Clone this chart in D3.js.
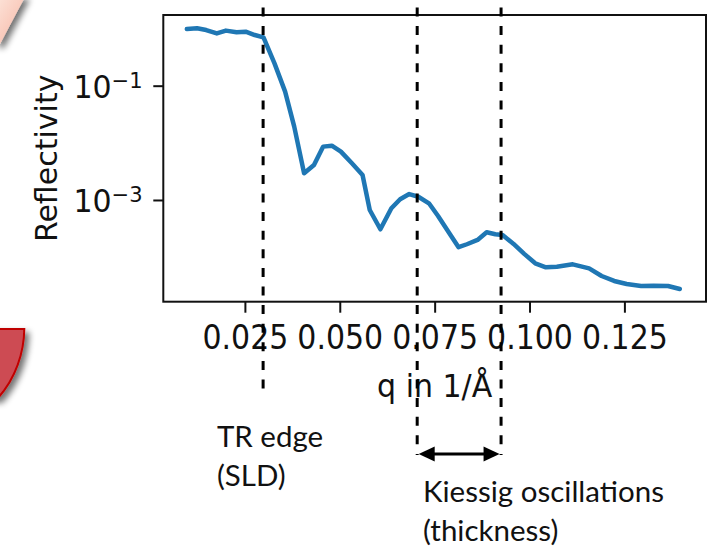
<!DOCTYPE html>
<html>
<head>
<meta charset="utf-8">
<script src="https://cdn.jsdelivr.net/npm/d3@7"></script>
<style>
  body { margin: 0; background: #fff; }
  svg { display: block; }
</style>
</head>
<body>
<div id="my_dataviz"></div>
<script>
// reflectivity curve
var q = [0.0097, 0.0124, 0.0148, 0.0176, 0.0200, 0.0228, 0.0252, 0.0276, 0.0299, 0.0328,
         0.0356, 0.0380, 0.0406, 0.0432, 0.0456, 0.0479, 0.0503, 0.0532, 0.0560, 0.0579,
         0.0607, 0.0636, 0.0659, 0.0683, 0.0707, 0.0735, 0.0759, 0.0787, 0.0813, 0.0835,
         0.0863, 0.0887, 0.0910, 0.0929, 0.0958, 0.0986, 0.1015, 0.1043, 0.1072, 0.1114,
         0.1157, 0.1190, 0.1223, 0.1256, 0.1294, 0.1327, 0.1365, 0.1396]
var reflectivity = [0.98, 1.01, 0.94, 0.82, 0.92, 0.86, 0.88, 0.77, 0.70, 0.246,
         0.0787, 0.0192, 0.00293, 0.00410, 0.00858, 0.00893, 0.00702, 0.00438, 0.00274, 0.000668,
         0.000307, 0.000715, 0.00103, 0.00127, 0.00114, 0.000875, 0.000525, 0.000272, 0.000149, 0.000168,
         0.000200, 0.000272, 0.000251, 0.000244, 0.000170, 0.000114, 0.0000780, 0.0000664, 0.0000681, 0.0000748,
         0.0000637, 0.0000468, 0.0000383, 0.0000339, 0.0000313, 0.0000317, 0.0000313, 0.0000277]

var xTicks = [0.025, 0.050, 0.075, 0.100, 0.125]
var yTicks = [1e-1, 1e-3]

// annotation lines (q positions) and their captions
var edgeQ = [0.0298]
var kiessigQ = [0.0704, 0.0925]
var edgeLabel = ["TR edge", "(SLD)"]
var kiessigLabel = ["Kiessig oscillations", "(thickness)"]

var width = 717
    height = 547
var margin = {top: 15, right: 11, bottom: 245.3, left: 163.3}

var svg = d3.select("#my_dataviz")
  .append("svg")
    .attr("width", width)
    .attr("height", height)

var defs = svg.append("defs")
var shadow = defs.append("filter").attr("id", "shadow")
  .attr("x", "-50%").attr("y", "-50%").attr("width", "200%").attr("height", "200%")
shadow.append("feGaussianBlur").attr("in", "SourceAlpha").attr("stdDeviation", 3)
shadow.append("feOffset").attr("dx", 4).attr("dy", 4).attr("result", "b")
shadow.append("feComponentTransfer").append("feFuncA").attr("type", "linear").attr("slope", 0.55)
var merge = shadow.append("feMerge")
merge.append("feMergeNode")
merge.append("feMergeNode").attr("in", "SourceGraphic")

var peach = defs.append("linearGradient").attr("id", "peach")
  .attr("x1", 0).attr("y1", 0).attr("x2", 1).attr("y2", 1)
peach.append("stop").attr("offset", "0%").attr("stop-color", "#fde6dc")
peach.append("stop").attr("offset", "100%").attr("stop-color", "#f6b4a2")

// bits of neighbouring slide shapes, cut off at the left edge
svg.append("path")
  .attr("d", "M-5,-5 L26,-5 L0,44 L-5,44 Z")
  .attr("fill", "url(#peach)")
  .attr("filter", "url(#shadow)")
svg.append("path")
  .attr("d", "M-10,329 L24.3,329 C24,352 16,378 -2,398 L-10,398 Z")
  .attr("fill", "#cd4b52")
  .attr("stroke", "#c00000")
  .attr("stroke-width", 2)
  .attr("filter", "url(#shadow)")

var x = d3.scaleLinear()
  .domain([0.0035, 0.1465])
  .range([margin.left, width - margin.right])

var y = d3.scaleLog()
  .domain([Math.pow(10, -4.78), Math.pow(10, 0.237)])
  .range([height - margin.bottom, margin.top])

var font = "'DejaVu Sans', sans-serif"

// curve
var line = d3.line()
  .x(function(d, i) { return x(q[i]) })
  .y(function(d) { return y(d) })

svg.append("path")
  .datum(reflectivity)
  .attr("d", line)
  .attr("fill", "none")
  .attr("stroke", "#1f77b4")
  .attr("stroke-width", 4.5)
  .attr("stroke-linejoin", "round")
  .attr("stroke-linecap", "round")

// axes (labels slightly taller than wide, like the stretched original)
var xAxis = svg.append("g")
  .attr("transform", "translate(0," + (height - margin.bottom) + ")")
  .call(d3.axisBottom(x).tickValues(xTicks).tickFormat(d3.format(".3f")).tickSize(11).tickSizeOuter(0))
xAxis.select(".domain").remove()
xAxis.selectAll(".tick line").attr("stroke", "#111").attr("stroke-width", 2)
xAxis.selectAll(".tick text")
  .attr("y", 0).attr("dy", 0)
  .attr("transform", "translate(0,47.5) scale(1,1.1)")
  .attr("fill", "#111")
  .style("font-family", font).style("font-size", "30px")

var yAxis = svg.append("g")
  .attr("transform", "translate(" + margin.left + ",0)")
  .call(d3.axisLeft(y).tickValues(yTicks).tickSize(10).tickSizeOuter(0))
yAxis.select(".domain").remove()
yAxis.selectAll(".tick line").attr("stroke", "#111").attr("stroke-width", 2)
yAxis.selectAll(".tick text")
  .attr("x", 0).attr("dy", 0)
  .attr("transform", "translate(-20.8,11.5) scale(1,1.05)")
  .attr("fill", "#111")
  .style("font-family", font).style("font-size", "30px")
  .text("")
  .each(function(d) {
    var t = d3.select(this)
    t.append("tspan").text("10")
    t.append("tspan").attr("dy", -9.5).style("font-size", "21px")
      .text("\u2212" + Math.round(-Math.log10(d)))
  })

// frame
svg.append("rect")
  .attr("x", margin.left)
  .attr("y", margin.top)
  .attr("width", width - margin.right - margin.left)
  .attr("height", height - margin.bottom - margin.top)
  .attr("fill", "none")
  .attr("stroke", "#111")
  .attr("stroke-width", 2)

// axis titles
svg.append("text")
  .attr("transform", "translate(" + ((margin.left + width - margin.right) / 2) + ",396.5) scale(1,1.08)")
  .attr("text-anchor", "middle")
  .attr("fill", "#111")
  .style("font-family", font).style("font-size", "30px")
  .text("q in 1/\u00c5")

svg.append("text")
  .attr("transform", "translate(57," + ((margin.top + height - margin.bottom) / 2) + ") rotate(-90)")
  .attr("text-anchor", "middle")
  .attr("fill", "#111")
  .style("font-family", font).style("font-size", "30px")
  .text("Reflectivity")

// dashed annotation lines
var dash = "9,9.6"
svg.selectAll(".edge")
  .data(edgeQ)
  .enter().append("line")
    .attr("x1", function(d) { return x(d) }).attr("x2", function(d) { return x(d) })
    .attr("y1", 7.5).attr("y2", 397)
    .attr("stroke", "#000").attr("stroke-width", 3)
    .attr("stroke-dasharray", dash)

svg.selectAll(".kiessig")
  .data(kiessigQ)
  .enter().append("line")
    .attr("x1", function(d) { return x(d) }).attr("x2", function(d) { return x(d) })
    .attr("y1", 7.5).attr("y2", 455)
    .attr("stroke", "#000").attr("stroke-width", 3)
    .attr("stroke-dasharray", dash)

// double arrow between the Kiessig lines
var ay = 454
var ax0 = x(kiessigQ[0]) + 1.5
var ax1 = x(kiessigQ[1]) - 1.5
svg.append("line")
  .attr("x1", ax0 + 10).attr("x2", ax1 - 10)
  .attr("y1", ay).attr("y2", ay)
  .attr("stroke", "#000").attr("stroke-width", 3)
svg.append("path")
  .attr("d", "M" + ax0 + "," + ay + " L" + (ax0 + 16) + "," + (ay - 7.5) + " L" + (ax0 + 16) + "," + (ay + 7.5) + " Z")
  .attr("fill", "#000")
svg.append("path")
  .attr("d", "M" + ax1 + "," + ay + " L" + (ax1 - 16) + "," + (ay - 7.5) + " L" + (ax1 - 16) + "," + (ay + 7.5) + " Z")
  .attr("fill", "#000")

// captions
var capFont = "Lato, 'Open Sans', sans-serif"
svg.selectAll(".edgecap")
  .data(edgeLabel)
  .enter().append("text")
    .attr("x", 216.9)
    .attr("y", function(d, i) { return 447.3 + i * 39 })
    .attr("fill", "#111")
    .style("font-family", capFont).style("font-size", "29.5px")
    .text(function(d) { return d })

svg.selectAll(".kiessigcap")
  .data(kiessigLabel)
  .enter().append("text")
    .attr("x", 423)
    .attr("y", function(d, i) { return 501.7 + i * 39 })
    .attr("fill", "#111")
    .style("font-family", capFont).style("font-size", "29.5px")
    .text(function(d) { return d })
</script>
</body>
</html>
